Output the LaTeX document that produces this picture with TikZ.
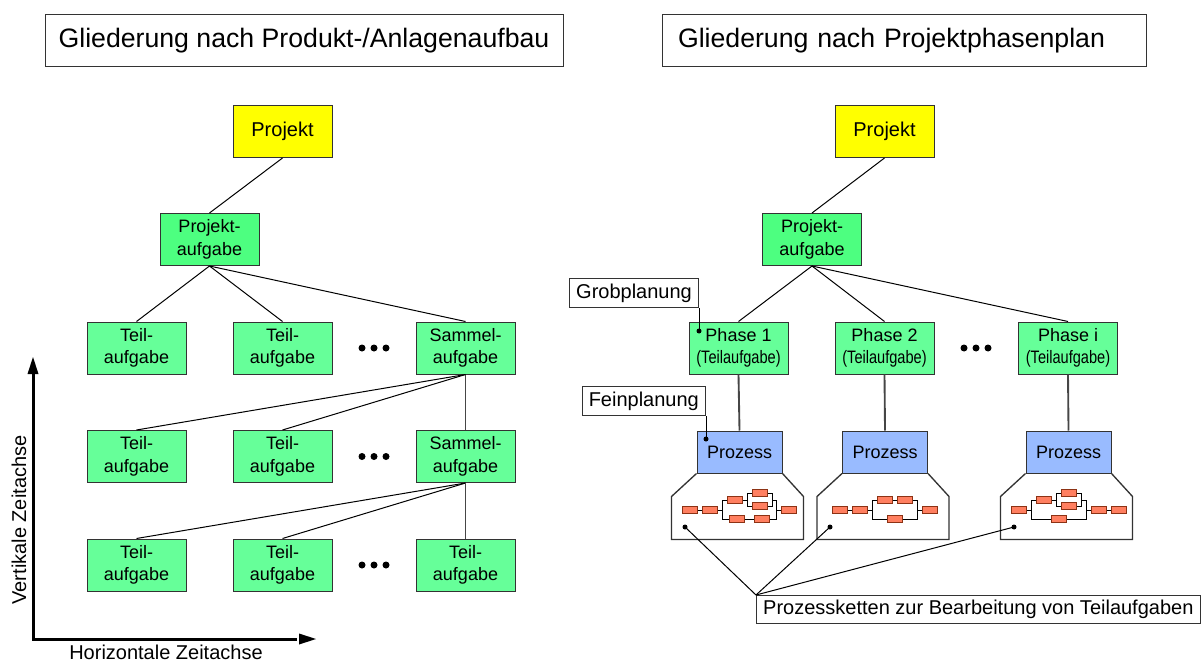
\documentclass[tikz,border=0pt]{standalone}
\usepackage{fontspec}
\setmainfont{Liberation Sans}
\usepackage{graphicx}

\definecolor{rahmen}{RGB}{51,51,51}
\definecolor{projektgelb}{RGB}{255,255,0}
\definecolor{paufgabegruen}{RGB}{77,255,128}
\definecolor{teilgruen}{RGB}{102,255,153}
\definecolor{prozessblau}{RGB}{153,187,255}
\definecolor{kettenrot}{RGB}{255,127,96}
\definecolor{kettenrand}{RGB}{140,50,20}
\definecolor{stammgrau}{RGB}{70,70,70}

\tikzset{every picture/.style={line width=0.75pt}}

\begin{document}
\begin{tikzpicture}[x=0.75pt,y=0.75pt,yscale=-1,xscale=1,
  aufgabe/.style={draw=rahmen, fill=teilgruen, minimum width=74.25pt, minimum height=39pt, inner sep=0pt, align=center, font=\fontsize{13.5}{17}\selectfont},
  projekt/.style={aufgabe, fill=projektgelb, font=\fontsize{15}{18}\selectfont},
  paufgabe/.style={aufgabe, fill=paufgabegruen},
  prozess/.style={draw=rahmen, fill=prozessblau, minimum width=63.75pt, minimum height=31.5pt, inner sep=0pt, font=\fontsize{13.5}{17}\selectfont},
  titel/.style={draw=rahmen, fill=white, minimum height=39pt, inner sep=0pt, font=\fontsize{20}{24}\selectfont},
  hinweis/.style={draw=rahmen, fill=white, minimum height=22pt, inner xsep=5pt, inner ysep=0pt, font=\fontsize{15}{18}\selectfont},
  glied/.style={draw=kettenrand, fill=kettenrot, minimum width=11.25pt, minimum height=5.25pt, inner sep=0pt},
  stamm/.style={draw=stammgrau, line width=1.4pt},
  trichter/.style={draw=rahmen, line width=1pt}]
\useasboundingbox (0,0) rectangle (1201,663);

% Titles
\node [titel, minimum width=388.5pt] (titel1) at (304,41) {Gliederung nach Produkt-/Anlagenaufbau};
\node [titel, inner xsep=12pt, text width=339pt, align=left] (titel2) at (904,41) {Gliederung nach Projektphasenplan};

%%% Left tree
\node [projekt] (pr1) at (282.5,131.5) {Projekt};
\node [paufgabe] (pa1) at (209.5,239.5) {Projekt-\\aufgabe};
\node [aufgabe] (t11) at (136.5,348) {Teil-\\aufgabe};
\node [aufgabe] (t12) at (282.5,348) {Teil-\\aufgabe};
\node [aufgabe] (s1) at (465.5,348) {Sammel-\\aufgabe};
\node [aufgabe] (t21) at (136.5,456.5) {Teil-\\aufgabe};
\node [aufgabe] (t22) at (282.5,456.5) {Teil-\\aufgabe};
\node [aufgabe] (s2) at (465.5,456.5) {Sammel-\\aufgabe};
\node [aufgabe] (t31) at (136.5,565) {Teil-\\aufgabe};
\node [aufgabe] (t32) at (282.5,565) {Teil-\\aufgabe};
\node [aufgabe] (t33) at (465.5,565) {Teil-\\aufgabe};

%Straight Lines
\draw (pr1.south) -- (pa1.north);
\draw (pa1.south) -- (t11.north);
\draw (pa1.south) -- (t12.north);
\draw (pa1.south) -- (s1.north);
\draw (s1.south) -- (t21.north);
\draw (s1.south) -- (t22.north);
\draw [stamm] (s1.south) -- (s2.north);
\draw (s2.south) -- (t31.north);
\draw (s2.south) -- (t32.north);
\draw [stamm] (s2.south) -- (t33.north);

% Dots
\fill (362,348) circle (3.5) (374,348) circle (3.5) (386,348) circle (3.5);
\fill (362,456.5) circle (3.5) (374,456.5) circle (3.5) (386,456.5) circle (3.5);
\fill (362,565) circle (3.5) (374,565) circle (3.5) (386,565) circle (3.5);

% Axes
\coordinate (ursprung) at (33,639);
\coordinate (vspitze) at (33,357);
\coordinate (hspitze) at (316,639);
\draw [line width=2.25pt] (vspitze) ++(0,14) -- (ursprung) -- ([xshift=-14]hspitze);
\fill (vspitze) -- ++(-5.5,17) -- ++(11,0) -- cycle;
\fill (hspitze) -- ++(-17,-5.5) -- ++(0,11) -- cycle;
\node [rotate=90, font=\fontsize{15}{18}\selectfont] (vachse) at (19,520) {Vertikale Zeitachse};
\node [font=\fontsize{15}{18}\selectfont] (hachse) at (166,652) {Horizontale Zeitachse};

%%% Right tree
\node [projekt] (pr2) at (884.5,131.5) {Projekt};
\node [paufgabe] (pa2) at (812,239.5) {Projekt-\\aufgabe};
\node [aufgabe] (ph1) at (738.5,348) {Phase 1\\\scalebox{0.81}[1]{(Teilaufgabe)}};
\node [aufgabe] (ph2) at (884.5,348) {Phase 2\\\scalebox{0.81}[1]{(Teilaufgabe)}};
\node [aufgabe] (ph3) at (1068,348) {Phase i\\\scalebox{0.81}[1]{(Teilaufgabe)}};
\node [prozess] (pz1) at (739.5,452) {Prozess};
\node [prozess] (pz2) at (885,452) {Prozess};
\node [prozess] (pz3) at (1068.5,452) {Prozess};

%Straight Lines
\draw (pr2.south) -- (pa2.north);
\draw (pa2.south) -- (ph1.north);
\draw (pa2.south) -- (ph2.north);
\draw (pa2.south) -- (ph3.north);
\draw [stamm] (ph1.south) -- (pz1.north);
\draw [stamm] (ph2.south) -- (pz2.north);
\draw [stamm] (ph3.south) -- (pz3.north);

\fill (964,348) circle (3.5) (976,348) circle (3.5) (988,348) circle (3.5);

% Planning notes
\node [hinweis, anchor=south east] (grob) at (699,308) {Grobplanung};
\node [hinweis, anchor=south east] (fein) at (706,416) {Feinplanung};
\coordinate (grobpunkt) at (699,331);
\coordinate (feinpunkt) at (706,439);
\draw (grob.south east) -- (grobpunkt);
\draw (fein.south east) -- (feinpunkt);
\fill (grobpunkt) circle (2.5);
\fill (feinpunkt) circle (2.5);

% Process chain outlines
\draw [trichter] (pz1.south west) -- ++(-25,23) -- ++(0,43) -- ++(132,0) -- ++(0,-43) -- (pz1.south east);
\draw [trichter] (pz2.south west) -- ++(-25,23) -- ++(0,43) -- ++(132,0) -- ++(0,-43) -- (pz2.south east);
\draw [trichter] (pz3.south west) -- ++(-25,23) -- ++(0,43) -- ++(132,0) -- ++(0,-43) -- (pz3.south east);

% Chain 1
\draw (689.5,510) -- (722,510) (722,500) -- (747,500) (747,493) rectangle (772,506) (772,500) -- (776,500)
  (722,500) -- (722,519) -- (776,519) -- (776,500) (776,510) -- (788.5,510);
\node [glied] (k1a) at (689.5,510) {};
\node [glied] (k1b) at (709.5,510) {};
\node [glied] (k1c) at (734.5,500) {};
\node [glied] (k1d) at (759.5,493) {};
\node [glied] (k1e) at (759.5,506) {};
\node [glied] (k1f) at (737,519) {};
\node [glied] (k1g) at (761.5,519) {};
\node [glied] (k1h) at (788.5,510) {};

% Chain 2
\draw (840,510) -- (872,510) (872,500) -- (917,500) (872,500) -- (872,519) -- (917,519) -- (917,500) (917,510) -- (930,510);
\node [glied] (k2a) at (840,510) {};
\node [glied] (k2b) at (860,510) {};
\node [glied] (k2c) at (885,500) {};
\node [glied] (k2d) at (905,500) {};
\node [glied] (k2e) at (895,519) {};
\node [glied] (k2f) at (930,510) {};

% Chain 3
\draw (1019,510) -- (1031,510) (1031,500) -- (1056,500) (1056,493) rectangle (1081,506) (1081,500) -- (1086,500)
  (1031,500) -- (1031,519) -- (1086,519) -- (1086,500) (1086,510) -- (1118.5,510);
\node [glied] (k3a) at (1019,510) {};
\node [glied] (k3b) at (1043.5,500) {};
\node [glied] (k3c) at (1068.5,493) {};
\node [glied] (k3d) at (1068.5,506) {};
\node [glied] (k3e) at (1058.5,519) {};
\node [glied] (k3f) at (1098.5,510) {};
\node [glied] (k3g) at (1118.5,510) {};

% Process chain note
\node [hinweis, anchor=north west, minimum height=21pt] (ketten) at (756,595) {Prozessketten zur Bearbeitung von Teilaufgaben};
\coordinate (kd1) at (685,527);
\coordinate (kd2) at (830,527);
\coordinate (kd3) at (1014,527);
\draw (kd1) -- (ketten.north west) -- (kd2);
\draw (ketten.north west) -- (kd3);
\fill (kd1) circle (2.5) (kd2) circle (2.5) (kd3) circle (2.5);

\end{tikzpicture}
\end{document}
